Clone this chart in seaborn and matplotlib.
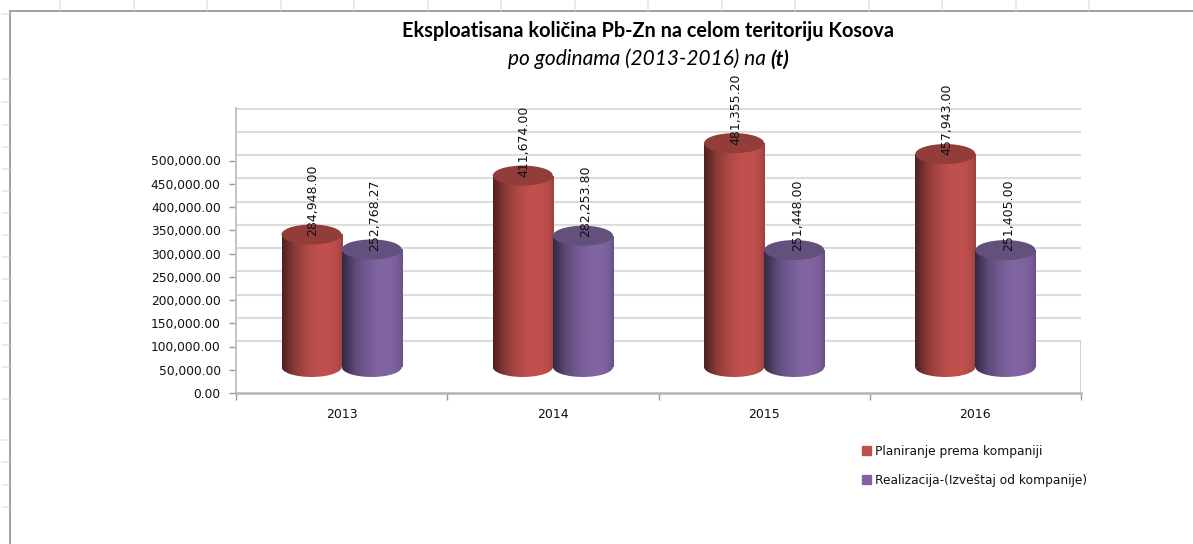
import matplotlib
matplotlib.use("Agg")
import matplotlib.pyplot as plt
from matplotlib.lines import Line2D
from matplotlib.patches import Ellipse, Patch
import numpy as np
import pandas as pd
import seaborn as sns

years = ["2013", "2014", "2015", "2016"]
planned = [284948.00, 411674.00, 481355.20, 457943.00]
realized = [252768.27, 282253.80, 251448.00, 251405.00]
series_names = ["Planiranje prema kompaniji", "Realizacija-(Izveštaj od kompanije)"]
colors = ["#C0504D", "#8064A2"]
top_colors = ["#923D3A", "#62507D"]
y_ticks = [0, 50000, 100000, 150000, 200000, 250000, 300000, 350000, 400000, 450000, 500000]

W, H = 1193, 544
# the 3d look: px per unit on the front axis, and how far back bars/wall sit
px_per_unit = 232.5 / 500000
bar_base = 26 / px_per_unit
wall_shift = 52 / px_per_unit
cap_h = 20 / px_per_unit

data = pd.DataFrame({
    "year": years * 2,
    "value": planned + realized,
    "series": [series_names[0]] * 4 + [series_names[1]] * 4,
})

sns.set_theme(style="white")
fig = plt.figure(figsize=(W / 100, H / 100), dpi=100)
ax = fig.add_axes([236 / W, (H - 393) / H, 845 / W, 285 / H])

sns.barplot(data=data, x="year", y="value", hue="series", palette=colors, width=0.569,
            gap=0, saturation=1, bottom=bar_base, linewidth=0, zorder=2, legend=False, ax=ax)

# back wall
ylim_top = 285 / px_per_unit
ax.hlines([t + wall_shift for t in y_ticks] + [ylim_top], -0.5, 3.5, color="#dcdcdc", lw=1.5, zorder=1)
ax.vlines(3.5, 0, wall_shift, color="#c8c8c8", lw=1.2, zorder=1)

stops = [0, 0.06, 0.2, 0.4, 0.6, 0.8, 0.93, 1]
shade = [0.42, 0.5, 0.72, 0.9, 1.0, 1.0, 0.93, 0.82]
xs = np.linspace(0, 1, 60)
for i, (cont, values) in enumerate(zip(ax.containers, [planned, realized])):
    rgb = np.array(matplotlib.colors.to_rgb(colors[i]))
    grad = np.interp(xs, stops, shade)[None, :, None] * rgb[None, None, :]
    for rect in cont:
        x0, w = rect.get_x(), rect.get_width()
        y0, h = rect.get_y(), rect.get_height()
        im = ax.imshow(grad, extent=[x0, x0 + w, y0, y0 + h], aspect="auto", zorder=2.2 + i, interpolation="bilinear")
        im.set_clip_path(rect)
        low = Ellipse((x0 + w / 2, y0), w, cap_h, fc="none", ec="none", zorder=2.2 + i)
        ax.add_patch(low)
        im2 = ax.imshow(grad, extent=[x0, x0 + w, y0 - cap_h / 2, y0 + cap_h / 2], aspect="auto",
                        zorder=2.2 + i, interpolation="bilinear")
        im2.set_clip_path(low)
        ax.add_patch(Ellipse((x0 + w / 2, y0 + h), w, cap_h, fc=top_colors[i], ec="none", zorder=2.5 + i))
    labels = ax.bar_label(cont, labels=[f"{v:,.2f}" for v in values], rotation=90, padding=-1,
                          fontsize=9, color="#111111", zorder=6)
    for t in labels:
        t.set_clip_on(False)
        t.xyann = (1 + 1.2 * i, t.xyann[1])

ax.set_xlim(-0.5, 3.5)
ax.set_ylim(0, ylim_top)
ax.set_xlabel("")
ax.set_ylabel("")
ax.set_yticks(y_ticks)
ax.set_yticklabels([f"{t:,.2f}" for t in y_ticks], fontsize=8.8, color="#111111")
ax.set_xticks(range(4))
ax.set_xticklabels(years, fontsize=9, color="#111111")
ax.set_xticks([-0.5, 0.5, 1.5, 2.5, 3.5], minor=True)
ax.tick_params(axis="x", which="major", length=0, pad=10.5)
ax.tick_params(axis="x", which="minor", length=5, width=1, color="#999999", bottom=True)
ax.tick_params(axis="y", length=5, width=1, color="#999999", left=True, pad=6)
sns.despine(ax=ax, top=True, right=True)
ax.spines["left"].set_color("#c4c4c4")
ax.spines["left"].set_linewidth(1.4)
ax.spines["bottom"].set_color("#b4b4b4")
ax.spines["bottom"].set_linewidth(1.8)

ax.legend(handles=[Patch(color=c, label=n) for c, n in zip(colors, series_names)], loc="upper left",
          bbox_to_anchor=((862 - 236) / 845, (393 - 445) / 285), frameon=False, fontsize=8.8, borderaxespad=0,
          borderpad=0, handlelength=0.72, handleheight=0.72, handletextpad=0.35, labelspacing=1.27,
          labelcolor="#111111")

# title
fig.text(648.5 / W, 1 - 31 / H, "Eksploatisana količina Pb-Zn na celom teritoriju Kosova", ha="center", va="center",
         family="Lato", weight="bold", fontsize=14.3, color="black")
sub = fig.text(508 / W, 1 - 59 / H, "po godinama (2013-2016) na ", ha="left", va="center", family="Lato",
               style="italic", fontsize=15, color="black")
ax.annotate("(t)", xy=(1, 0), xycoords=sub, xytext=(0, 0), textcoords="offset points", va="bottom", ha="left",
            family="Lato", style="italic", weight="bold", fontsize=15, color="black", annotation_clip=False)

# chart frame and the spreadsheet cells behind it
def px_line(x, y):
    fig.add_artist(Line2D([v / W for v in x], [1 - v / H for v in y], color=line_col, lw=line_w))

line_col, line_w = "#a0a0a0", 1.4
px_line([9.5, W], [10.5, 10.5])
px_line([9.5, 9.5], [10.5, H])
line_col, line_w = "#e6e6e6", 1.2
for k in range(15):
    px_line([60 + 73.5 * k] * 2, [0, 9.5])
for y in [13.5, 78.5, 101.5, 125, 147, 169, 191, 213, 235, 257, 279, 301, 323, 345, 367, 399, 440, 462, 485, 507]:
    px_line([2, 9], [y, y])

fig.savefig("out.png", dpi=100)
